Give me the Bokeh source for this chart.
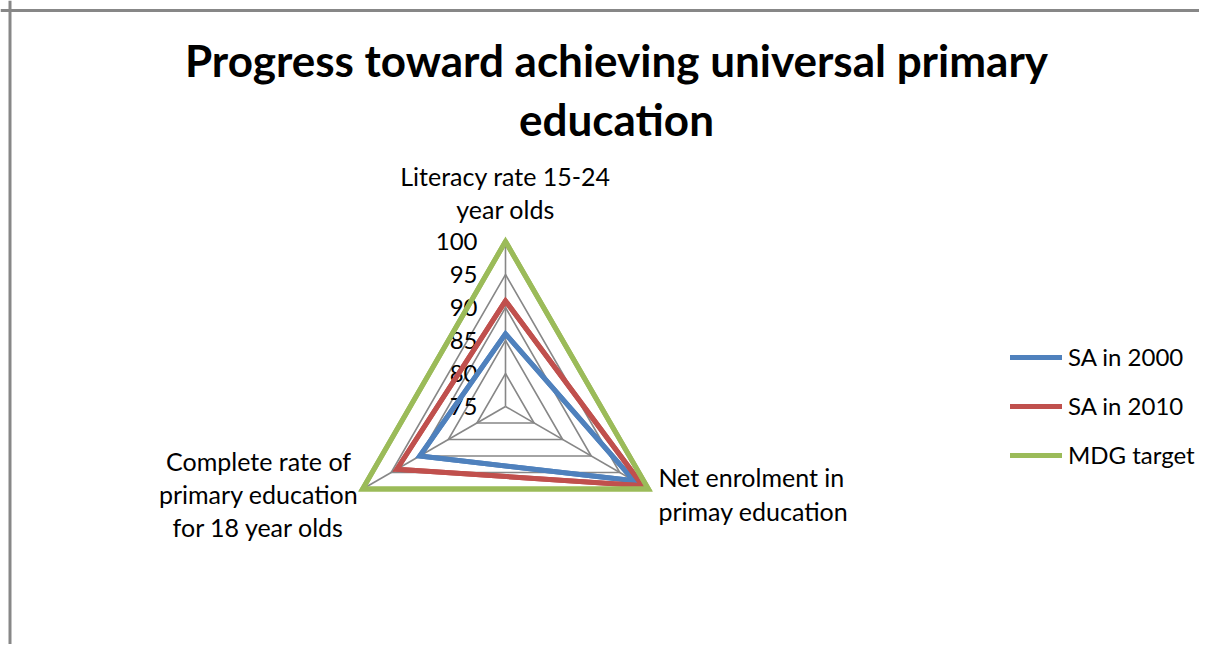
import numpy as np
from bokeh.plotting import figure
from bokeh.models import Range1d, Label, Legend, LegendItem, Span, ColumnDataSource
from bokeh.core.properties import value
from bokeh.embed import file_html
from bokeh.resources import INLINE

# ---------------- data ----------------
title_text = "Progress toward achieving universal primary\neducation"
categories = ["Literacy rate 15-24\nyear olds",
              "Net enrolment in\nprimay education",
              "Complete rate of\nprimary education\nfor 18 year olds"]
series_names = ["SA in 2000", "SA in 2010", "MDG target"]
sa_2000 = [86, 97.5, 90]
sa_2010 = [91, 99, 94]
mdg_target = [100, 100, 100]
tick_values = [75, 80, 85, 90, 95, 100]
tick_labels = ["75", "80", "85", "90", "95", "100"]
r_min = 75

# ---------------- layout / style ----------------
W, H = 1199, 644
scale = 6.6          # px per value unit
cx, cy = 505, 406    # canvas px of radar centre
FONT = "Lato"
GRID = "#878787"
COLORS = ["#4F81BD", "#C0504D", "#9BBB59"]

angles = np.deg2rad([90, -30, 210])


def polar(vals):
    r = np.array(vals, dtype=float) - r_min
    return list(r * np.cos(angles)), list(r * np.sin(angles))


x_range = Range1d(-cx / scale, (W - cx) / scale)
y_range = Range1d(-(H - cy) / scale, cy / scale)

p = figure(width=W, height=H, x_range=x_range, y_range=y_range,
           output_backend="svg", toolbar_location=None,
           min_border=0, outline_line_color=None)
p.axis.visible = False
p.grid.visible = False
p.background_fill_color = "white"
p.border_fill_color = "white"

# border (top and left visible part of the chart frame)
p.add_layout(Span(location=y_range.end - 10 / scale, dimension="width",
                  line_color=GRID, line_width=3))
p.add_layout(Span(location=x_range.start + 9.5 / scale, dimension="height",
                  line_color=GRID, line_width=3))

# grid rings
ring_xs, ring_ys = [], []
for t in tick_values[1:]:
    xs, ys = polar([t] * len(categories))
    ring_xs.append(xs)
    ring_ys.append(ys)
p.patches(ring_xs, ring_ys, fill_color=None, line_color=GRID, line_width=1.6,
          line_join="miter")

# spokes
sx, sy = polar([tick_values[-1]] * len(categories))
p.segment(x0=[0] * len(categories), y0=[0] * len(categories), x1=sx, y1=sy,
          line_color=GRID, line_width=1.6)

# tick labels
tsrc = ColumnDataSource(dict(x=[0] * len(tick_values),
                             y=[t - r_min for t in tick_values],
                             text=tick_labels))
p.text(x="x", y="y", text="text", source=tsrc, x_offset=-28,
       text_align="right", text_baseline="middle",
       text_font=value(FONT), text_font_size="24px", text_color="black")

# series
items = []
for name, vals, col in zip(series_names, [sa_2000, sa_2010, mdg_target], COLORS):
    xs, ys = polar(vals)
    p.patch(xs, ys, fill_color=None, line_color=col, line_width=5,
            line_join="miter")
    r = p.line(xs + xs[:1], ys + ys[:1], line_color=col, line_width=5,
               line_join="miter", line_cap="round")
    items.append(LegendItem(label=name, renderers=[r]))

legend = Legend(items=items, location=(1010, 175),
                glyph_width=52, glyph_height=28, label_height=28,
                spacing=20, label_standoff=6, padding=0, margin=0,
                border_line_color=None, background_fill_alpha=0,
                label_text_font=FONT, label_text_font_size="24px",
                label_text_color="black")
p.add_layout(legend, "center")

# category labels
vx, vy = polar(mdg_target)
cat_specs = [
    dict(text_align="center", text_baseline="bottom", x_offset=0, y_offset=17),
    dict(text_align="left", text_baseline="middle", x_offset=10, y_offset=-5),
    dict(text_align="center", text_baseline="middle", x_offset=-104, y_offset=-5),
]
for txt, x, y, spec in zip(categories, vx, vy, cat_specs):
    p.add_layout(Label(x=x, y=y, text=txt, text_font=FONT,
                       text_font_size="25px", text_color="black",
                       text_line_height=1.11, **spec))

# title
p.add_layout(Label(x=616, y=H - 89, x_units="screen", y_units="screen",
                   text=title_text, text_align="center",
                   text_baseline="middle", text_font=FONT,
                   text_font_style="bold", text_font_size="44px",
                   text_color="black", text_line_height=1.13))

open("out.html", "w").write(file_html(p, INLINE))
